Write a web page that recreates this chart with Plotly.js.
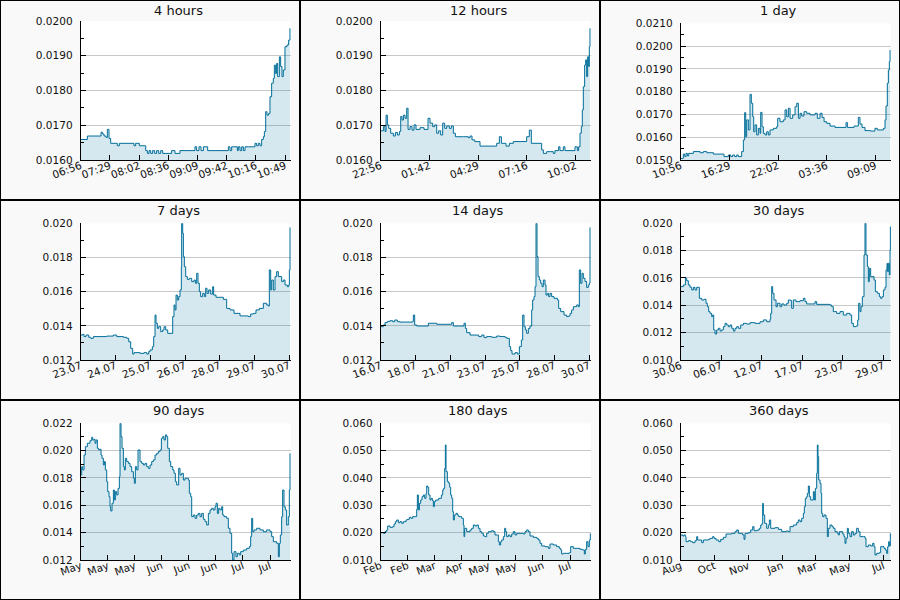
<!DOCTYPE html>
<html>
<head>
<meta charset="utf-8">
<script src="https://cdn.plot.ly/plotly-3.0.1.min.js"></script>
<style>html,body{margin:0;padding:0;background:#f9f9f9;}#chart{width:900px;height:600px;}</style>
</head>
<body>
<div id="chart"></div>
<script>
// ---------- DATA ----------
// 4 hours (minutes since 06:56)
const t4h = [0,7.6,23.2,24.7,26.6,28.9,30.4,32.3,34.2,41.8,44.1,60.8,62.7,66.9,74.2,76.1,78.0,79.9,82.1,84.4,86.7,89.0,91.3,93.6,103.8,107.6,113.3,130.4,132.3,135.0,137.3,140.0,144.9,168.5,170.4,172.3,178.8,179.9,181.8,183.7,185.6,187.5,191.3,198.9,200.8,202.7,204.6,206.5,208.4,209.6,211.1,212.6,214.5,216.0,217.9,219.8,221.0,222.5,223.6,224.8,226.7,228.2,229.7,231.2,233.1,235.4,237.3,238.8];
const v4h = [0.01659,0.01669,0.01680,0.01675,0.01669,0.01665,0.01688,0.01662,0.01648,0.01641,0.01648,0.01641,0.01648,0.01641,0.01627,0.01619,0.01627,0.01619,0.01627,0.01619,0.01627,0.01619,0.01627,0.01619,0.01627,0.01619,0.01627,0.01638,0.01627,0.01638,0.01627,0.01638,0.01627,0.01638,0.01627,0.01638,0.01627,0.01638,0.01627,0.01638,0.01627,0.01638,0.01638,0.01648,0.01641,0.01648,0.01641,0.01659,0.01667,0.01682,0.01739,0.01729,0.01734,0.01782,0.01821,0.01835,0.01873,0.01849,0.01878,0.01840,0.01897,0.01869,0.01840,0.01859,0.01926,0.01931,0.01945,0.01979];
const ticks4h = [0,33.333,66.667,100,133.333,166.667,200,233.333];
const labels4h = ['06:56','07:29','08:02','08:36','09:09','09:42','10:16','10:49'];

// 12 hours (minutes since 22:56)
const t12h = [0,9.1,14.8,18.3,22.8,27.4,34.2,43.4,50.2,57.1,63.9,68.5,73.0,77.6,83.3,89.0,93.6,100.4,107.3,114.1,120.9,134.6,148.3,162.0,168.9,178.0,184.8,191.7,198.5,205.4,212.2,219.1,225.9,235.0,241.9,248.7,255.6,283.0,300.1,305.8,312.6,321.8,340.0,391.4,397.1,406.2,413.1,429.0,440.4,454.1,499.8,508.9,515.7,551.1,556.8,568.2,591.0,596.7,609.3,613.8,625.2,630.9,665.2,673.2,677.7,682.3,686.8,690.2,693.7,698.2,701.6,705.1,708.5,711.9,714.2,716.5];
const v12h = [0.01684,0.01696,0.01682,0.01729,0.01701,0.01691,0.01677,0.01669,0.01679,0.01672,0.01682,0.01725,0.01715,0.01729,0.0172,0.01749,0.01688,0.01696,0.01686,0.01701,0.01688,0.01693,0.01688,0.0172,0.01706,0.01696,0.01701,0.01677,0.01684,0.01672,0.01706,0.01691,0.01698,0.01691,0.01698,0.01677,0.01667,0.01667,0.01664,0.01669,0.01658,0.01653,0.0164,0.0164,0.01648,0.01667,0.01648,0.0164,0.01648,0.01653,0.01667,0.01686,0.01648,0.01629,0.01619,0.01624,0.01619,0.01627,0.01638,0.01627,0.01638,0.01627,0.01638,0.01627,0.01638,0.01677,0.01696,0.01744,0.01811,0.01873,0.01888,0.0184,0.01897,0.01869,0.01926,0.01979];
const ticks12h = [0,166.667,333.333,500,666.667];
const labels12h = ['22:56','01:42','04:29','07:16','10:02'];

// 1 day (hours since 10:56)
const t1d = [0,0.30,0.46,0.61,0.76,0.91,1.45,2.21,2.59,2.97,3.73,4.94,5.44,5.71,5.93,6.16,6.39,6.58,6.96,7.15,7.30,7.42,7.53,7.72,7.91,8.06,8.22,8.33,8.48,8.67,8.86,9.05,9.13,9.28,9.43,9.62,9.81,10.00,10.19,10.57,10.95,11.07,11.33,11.71,11.91,12.10,12.29,12.48,12.78,13.05,13.24,13.43,13.62,13.81,14.07,14.38,14.76,15.33,15.59,15.90,16.13,16.36,16.66,17.04,17.61,18.87,19.02,19.78,20.27,20.46,20.69,21.03,21.68,22.17,22.44,23.13,23.32,23.43,23.58,23.70,23.81,23.89];
const v1d = [0.01507,0.01526,0.01515,0.01529,0.01518,0.01529,0.01537,0.01532,0.01537,0.01532,0.01526,0.01515,0.01522,0.01515,0.01522,0.01515,0.01522,0.01515,0.01537,0.01588,0.01708,0.01602,0.01676,0.01632,0.01788,0.01749,0.0169,0.01624,0.01654,0.0161,0.01639,0.01617,0.01709,0.01646,0.01617,0.0161,0.01624,0.0161,0.01632,0.01639,0.01646,0.01683,0.01668,0.01676,0.0172,0.0169,0.01727,0.01683,0.01698,0.01734,0.01749,0.01683,0.01705,0.01693,0.01712,0.01705,0.01698,0.01705,0.01683,0.01705,0.01687,0.01668,0.01661,0.01649,0.01643,0.01664,0.01643,0.01649,0.01687,0.01658,0.01643,0.01629,0.01627,0.01639,0.01632,0.01639,0.01676,0.01737,0.01837,0.01895,0.01932,0.01983];
const ticks1d = [0,5.5556,11.1111,16.6667,22.2222];
const labels1d = ['10:56','16:29','22:02','03:36','09:09'];

// 7 days (days since 23.07)
const t7d = [0,0.067,0.111,0.178,0.266,0.333,0.422,0.865,1.087,1.198,1.420,1.531,1.598,1.664,1.731,1.775,1.975,2.108,2.197,2.263,2.308,2.385,2.430,2.474,2.507,2.552,2.596,2.663,2.729,2.774,2.829,2.896,3.062,3.106,3.140,3.173,3.217,3.262,3.306,3.350,3.361,3.395,3.417,3.450,3.495,3.550,3.617,3.694,3.772,3.817,3.861,3.905,3.949,3.994,4.060,4.116,4.160,4.205,4.260,4.327,4.393,4.426,4.504,4.748,4.859,4.970,5.103,5.303,5.580,5.658,5.747,5.835,5.946,6.079,6.190,6.246,6.279,6.324,6.357,6.412,6.468,6.523,6.579,6.690,6.745,6.801,6.878,6.923,6.945,6.967];
const v7d = [0.01346,0.0135,0.01337,0.01346,0.01333,0.01327,0.01337,0.0134,0.01346,0.01337,0.01333,0.01327,0.01307,0.01268,0.01235,0.01243,0.01239,0.01243,0.01235,0.01249,0.01259,0.01278,0.01337,0.01463,0.01415,0.01385,0.01395,0.01366,0.01376,0.01395,0.01376,0.01356,0.01454,0.01522,0.01493,0.0158,0.01551,0.01571,0.0161,0.01746,0.020,0.01941,0.01805,0.01746,0.01688,0.01672,0.01678,0.01659,0.01668,0.01649,0.01707,0.01649,0.0160,0.01571,0.0159,0.01571,0.0162,0.0159,0.0161,0.01586,0.01629,0.0158,0.01567,0.01555,0.01502,0.01493,0.01473,0.01458,0.01454,0.01469,0.01473,0.01493,0.01502,0.01532,0.01522,0.01516,0.01727,0.0161,0.01668,0.0161,0.01688,0.01717,0.01688,0.01659,0.01668,0.01639,0.01629,0.01639,0.01727,0.01976];
const ticks7d = [0,1.1574,2.3148,3.4722,4.6296,5.787,6.9444];
const labels7d = ['23.07','24.07','25.07','26.07','28.07','29.07','30.07'];

// 14 days (days since 16.07)
const t14d = [0,0.177,0.288,0.444,0.621,0.799,0.932,1.109,1.287,2.130,2.174,2.263,2.396,3.173,3.727,4.726,4.837,5.547,5.635,5.724,5.946,6.523,6.723,6.878,7.055,7.388,7.721,7.943,8.276,8.387,8.564,8.653,8.742,8.941,9.097,9.230,9.363,9.452,9.540,9.629,9.718,9.829,9.940,10.051,10.117,10.206,10.273,10.339,10.406,10.473,10.561,10.650,10.739,10.827,10.938,11.005,11.094,11.182,11.271,11.382,11.537,11.759,11.848,11.981,12.203,12.380,12.513,12.602,12.713,12.824,13.046,13.157,13.223,13.312,13.401,13.490,13.601,13.712,13.823,13.889,13.933];
const v14d = [0.01395,0.01405,0.01419,0.01426,0.0143,0.01424,0.01434,0.01424,0.01422,0.01426,0.01463,0.01405,0.01399,0.01415,0.01409,0.01419,0.01399,0.01415,0.01385,0.0136,0.01346,0.01337,0.01346,0.01331,0.01337,0.01333,0.0134,0.01337,0.01333,0.01327,0.01278,0.01255,0.01235,0.01243,0.01235,0.01278,0.01317,0.01463,0.01395,0.01376,0.01356,0.01385,0.01399,0.01493,0.01551,0.01571,0.01629,0.020,0.01805,0.01688,0.01668,0.01649,0.01629,0.01668,0.01639,0.0158,0.0159,0.01571,0.0159,0.01571,0.01561,0.01551,0.01502,0.01483,0.01463,0.01454,0.01458,0.01473,0.01493,0.01512,0.01522,0.01512,0.01727,0.01649,0.01707,0.01678,0.01659,0.01625,0.01639,0.01649,0.01976];
const ticks14d = [0,2.3148,4.6296,6.9444,9.2593,11.5741,13.8889];
const labels14d = ['16.07','18.07','21.07','23.07','25.07','28.07','30.07'];

// 30 days (days since 30.06)
const t30d = [0,0.38,0.67,0.86,1.09,1.33,1.57,1.81,2.04,2.28,2.66,3.00,3.33,3.61,3.80,3.99,4.18,4.42,4.56,4.71,4.90,5.13,5.37,5.61,5.85,6.09,6.32,6.56,6.80,7.04,7.27,7.51,7.75,7.99,8.23,8.56,8.94,9.41,9.89,10.60,11.32,11.79,12.27,12.74,12.84,12.98,13.12,13.31,13.60,13.79,14.17,14.41,14.74,15.12,15.36,15.69,15.83,16.07,16.45,17.02,17.50,17.73,17.97,19.16,19.40,21.30,21.54,21.77,22.25,22.72,23.20,23.68,24.15,24.39,24.63,25.01,25.25,25.39,25.58,25.72,25.91,26.15,26.29,26.43,26.63,26.77,26.91,27.10,27.58,27.77,28.05,28.34,28.53,28.72,28.91,29.14,29.29,29.43,29.52,29.62,29.76,29.86,29.91];
const v30d = [0.01537,0.01549,0.01598,0.0158,0.01549,0.01532,0.01512,0.01532,0.01512,0.01532,0.01451,0.01439,0.01444,0.01415,0.0139,0.01354,0.01341,0.01317,0.01329,0.0122,0.0119,0.0122,0.01232,0.01212,0.0122,0.01244,0.01268,0.01256,0.01244,0.01256,0.01232,0.01212,0.01232,0.01244,0.01232,0.01256,0.01268,0.01263,0.01273,0.01268,0.0128,0.01293,0.0128,0.01298,0.01341,0.01537,0.01488,0.01439,0.0139,0.01415,0.0139,0.0141,0.01402,0.01415,0.01439,0.01434,0.01378,0.01439,0.01427,0.01434,0.01451,0.01427,0.0141,0.01427,0.01407,0.01402,0.0139,0.01354,0.01341,0.01354,0.01329,0.01341,0.01329,0.01268,0.01244,0.01249,0.01293,0.01415,0.01354,0.0139,0.01463,0.01768,0.020,0.01768,0.01683,0.01573,0.01671,0.0161,0.01585,0.015,0.01488,0.01463,0.01451,0.01463,0.01512,0.01532,0.01659,0.01707,0.01646,0.01707,0.01622,0.01805,0.01976];
const ticks30d = [0,5.787,11.574,17.361,23.148,28.935];
const labels30d = ['30.06','06.07','12.07','17.07','23.07','29.07'];

// 90 days (days since start)
const t90d = [0,0.43,0.86,1.43,2.00,2.85,3.99,4.71,5.13,5.71,6.13,6.56,7.13,7.70,8.27,8.70,9.13,9.70,10.13,10.55,11.13,11.55,12.12,12.55,12.84,13.41,13.98,14.41,14.83,15.40,15.97,16.55,16.83,17.26,17.69,18.26,18.68,19.11,19.68,20.40,21.11,21.82,22.54,22.96,23.39,23.96,24.53,24.96,25.39,26.10,26.81,27.53,28.24,28.95,29.67,30.38,31.09,31.81,32.52,33.23,33.95,34.52,35.09,35.66,36.23,36.80,37.23,37.94,38.51,39.37,39.94,40.51,41.08,41.93,42.50,43.22,43.93,44.64,46.07,46.50,47.07,47.50,48.21,48.92,49.64,50.35,51.06,51.77,52.49,53.20,53.91,54.63,55.34,56.05,56.77,57.48,57.91,58.48,59.05,59.62,60.33,60.76,61.33,62.47,63.18,63.90,64.61,65.04,65.61,66.46,67.04,67.89,68.46,69.60,71.03,72.17,72.74,73.17,73.60,74.17,75.31,76.73,78.16,79.59,81.01,81.73,82.44,83.87,84.58,85.01,85.43,86.00,86.43,87.00,87.57,88.14,88.85,89.28,89.57];
const v90d = [0.01822,0.01883,0.01859,0.01968,0.02029,0.02054,0.02073,0.02098,0.02078,0.02083,0.02054,0.02078,0.02017,0.02005,0.0201,0.01968,0.01944,0.01895,0.0192,0.01859,0.01773,0.0170,0.01663,0.0159,0.01559,0.01615,0.01712,0.01639,0.0170,0.01676,0.01724,0.0181,0.022,0.02102,0.02017,0.01883,0.01859,0.01944,0.0192,0.01907,0.01883,0.01846,0.01798,0.01761,0.01883,0.01859,0.02005,0.02005,0.0192,0.01907,0.01895,0.01907,0.01883,0.01871,0.01895,0.0192,0.01932,0.01968,0.0198,0.01993,0.02005,0.0209,0.02102,0.02078,0.02115,0.02102,0.02017,0.0192,0.01883,0.01859,0.01834,0.01773,0.01749,0.01871,0.01822,0.01834,0.01785,0.01798,0.01785,0.01688,0.01663,0.01517,0.01529,0.01505,0.01529,0.01541,0.01517,0.01541,0.01498,0.0148,0.01456,0.01541,0.01566,0.01578,0.01566,0.0159,0.01615,0.01541,0.01578,0.01566,0.0159,0.01529,0.01517,0.01505,0.01432,0.01395,0.01249,0.012,0.01261,0.01224,0.01249,0.01237,0.01261,0.01273,0.01285,0.01298,0.01371,0.01505,0.01407,0.0142,0.01432,0.0142,0.01407,0.0142,0.01407,0.01371,0.01334,0.01322,0.01224,0.01322,0.01383,0.01517,0.01712,0.0159,0.01566,0.01456,0.01517,0.01712,0.0198];
const ticks90d = [0,11.574,23.148,34.722,46.296,57.870,69.444,81.019];
const labels90d = ['May','May','May','Jun','Jun','Jun','Jul','Jul'];

// 180 days (days since start)
const t180d = [0,2.28,3.71,5.13,5.99,7.99,10.27,11.41,12.55,13.69,15.12,16.55,17.97,19.40,21.68,22.82,24.53,25.96,27.39,29.38,30.81,31.38,32.24,33.09,34.23,35.37,36.51,37.65,38.80,39.37,40.22,41.08,42.22,43.07,44.22,45.07,45.93,47.07,49.64,51.92,53.06,53.91,54.77,55.34,55.91,57.05,58.19,59.05,59.90,60.76,61.62,62.19,63.04,64.47,65.61,66.75,69.32,70.74,71.32,71.89,73.60,76.45,77.88,79.30,80.73,82.15,83.58,85.01,86.43,87.86,89.29,90.71,92.14,94.99,96.42,97.84,99.84,100.70,101.55,102.69,103.55,104.98,106.12,106.97,107.83,109.25,110.68,112.11,113.53,114.96,116.39,122.09,123.52,124.95,126.37,127.80,130.65,133.50,134.93,136.36,137.78,140.63,143.49,144.91,147.76,150.62,152.90,154.04,154.90,156.32,161.46,162.60,164.88,170.59,172.87,174.29,175.15,176.29,177.43,178.57,179.43];
const v180d = [0.0200,0.01976,0.02037,0.02098,0.02244,0.02195,0.0222,0.02317,0.02402,0.02463,0.02366,0.02402,0.02341,0.02402,0.02463,0.02488,0.02561,0.02524,0.02585,0.02585,0.02854,0.03378,0.02829,0.03073,0.03195,0.03317,0.03378,0.03256,0.03439,0.03707,0.03659,0.03378,0.03195,0.03256,0.03171,0.02951,0.03134,0.03195,0.03256,0.03378,0.03561,0.03622,0.04354,0.05207,0.04232,0.03866,0.03805,0.03659,0.03378,0.03256,0.02768,0.02463,0.02646,0.02707,0.02646,0.02585,0.02524,0.0228,0.01854,0.02159,0.02037,0.02098,0.02159,0.0228,0.02244,0.0228,0.02159,0.02037,0.01976,0.01878,0.01854,0.01976,0.02037,0.02073,0.02037,0.01915,0.01915,0.01671,0.01549,0.01671,0.01732,0.01854,0.02159,0.02037,0.01854,0.01915,0.01854,0.01951,0.02037,0.01915,0.01976,0.01951,0.02037,0.02098,0.02037,0.01878,0.01829,0.01793,0.01732,0.0161,0.01512,0.01488,0.01427,0.01585,0.01549,0.01488,0.01427,0.01366,0.0122,0.01244,0.01268,0.01488,0.01427,0.0139,0.01366,0.0122,0.0139,0.01671,0.01488,0.01732,0.01976];
const ticks180d = [0,23.148,46.296,69.444,92.593,115.741,138.889,162.037];
const labels180d = ['Feb','Feb','Mar','Apr','May','May','Jun','Jul'];

// 360 days (days since start)
const t360d = [0,3.42,5.71,7.99,9.13,13.12,17.12,20.54,24.53,27.38,29.10,35.94,38.80,47.35,50.21,54.77,57.05,60.48,65.04,68.46,73.03,77.59,87.29,92.99,95.85,98.70,106.12,108.40,110.11,115.82,119.81,123.23,125.51,131.22,134.64,136.93,139.21,140.35,141.49,143.78,147.20,150.05,151.76,154.04,161.46,167.16,172.87,180.28,184.28,187.13,192.84,198.54,201.39,204.25,207.10,209.95,211.66,213.37,215.66,216.80,218.51,220.22,222.50,224.78,227.07,228.78,230.49,232.77,233.91,235.05,236.20,238.48,240.19,241.33,243.04,245.32,248.75,251.03,252.74,255.59,259.02,261.30,264.15,268.14,269.86,271.57,277.27,279.55,281.27,282.98,285.26,286.97,289.82,292.68,295.53,298.38,301.23,304.09,306.94,312.64,315.50,317.21,321.20,325.20,328.62,330.90,332.61,335.47,340.03,342.31,348.02,350.30,352.58,354.30,356.01,357.15,358.86];
const v360d = [0.01915,0.01878,0.01915,0.01854,0.01671,0.01707,0.01671,0.01634,0.01707,0.01854,0.01732,0.01634,0.01732,0.01756,0.01793,0.01854,0.01793,0.01732,0.01671,0.01756,0.01829,0.01951,0.01976,0.02037,0.02098,0.01976,0.01915,0.01756,0.01976,0.0200,0.02098,0.0222,0.02073,0.02098,0.02159,0.0228,0.02341,0.03073,0.02646,0.02341,0.02159,0.0228,0.02463,0.02159,0.02183,0.02122,0.02037,0.02061,0.02037,0.0222,0.0228,0.02366,0.02463,0.02402,0.02524,0.02707,0.02951,0.03256,0.03317,0.03439,0.03707,0.03317,0.03195,0.03195,0.035,0.03195,0.03622,0.04171,0.05207,0.0478,0.03927,0.03805,0.03439,0.02707,0.02585,0.02646,0.02524,0.01854,0.02159,0.0228,0.0222,0.02159,0.02037,0.01976,0.01915,0.02037,0.01951,0.01854,0.0161,0.01793,0.02159,0.01976,0.01854,0.02037,0.01915,0.01976,0.02159,0.02037,0.01854,0.01854,0.01793,0.01488,0.01549,0.01512,0.0161,0.01488,0.01183,0.01244,0.01268,0.01488,0.01427,0.01366,0.01244,0.01488,0.01671,0.01512,0.01976];
const ticks360d = [0,57.87,115.74,173.61,231.48,289.35,347.22];
const labels360d = ['Aug','Oct','Nov','Jan','Mar','May','Jul'];

const titles = ['4 hours','12 hours','1 day','7 days','14 days','30 days','90 days','180 days','360 days'];

// ---------- PANEL SETUP ----------
const panels = [
  {t:t4h,   v:v4h,   span:240,  tv:ticks4h,   tt:labels4h,   lo:0.016, hi:0.020, dt:0.001, fmt:'.4f', top:21},
  {t:t12h,  v:v12h,  span:720,  tv:ticks12h,  tt:labels12h,  lo:0.016, hi:0.020, dt:0.001, fmt:'.4f', top:21},
  {t:t1d,   v:v1d,   span:24,   tv:ticks1d,   tt:labels1d,   lo:0.015, hi:0.021, dt:0.001, fmt:'.4f', top:23.3},
  {t:t7d,   v:v7d,   span:7,    tv:ticks7d,   tt:labels7d,   lo:0.012, hi:0.020, dt:0.002, fmt:'.3f', top:23.3},
  {t:t14d,  v:v14d,  span:14,   tv:ticks14d,  tt:labels14d,  lo:0.012, hi:0.020, dt:0.002, fmt:'.3f', top:23.3},
  {t:t30d,  v:v30d,  span:30,   tv:ticks30d,  tt:labels30d,  lo:0.010, hi:0.020, dt:0.002, fmt:'.3f', top:23.3},
  {t:t90d,  v:v90d,  span:90,   tv:ticks90d,  tt:labels90d,  lo:0.012, hi:0.022, dt:0.002, fmt:'.3f', top:23.3},
  {t:t180d, v:v180d, span:180,  tv:ticks180d, tt:labels180d, lo:0.010, hi:0.060, dt:0.010, fmt:'.3f', top:23.3},
  {t:t360d, v:v360d, span:360,  tv:ticks360d, tt:labels360d, lo:0.010, hi:0.060, dt:0.010, fmt:'.3f', top:23.3}
];

const FONT = 'DejaVu Sans, Verdana, sans-serif';
const W = 900, H = 600;
const LINE = '#006e99';
const FILL = 'rgba(0,110,153,0.16)';

const traces = [];
const layout = {
  width: W, height: H,
  margin: {l:0, r:0, t:0, b:0, pad:0},
  paper_bgcolor: '#f9f9f9',
  plot_bgcolor: '#ffffff',
  showlegend: false,
  hovermode: false,
  font: {family: FONT, size: 10.5, color: '#111'},
  annotations: [],
  shapes: []
};

panels.forEach((p, i) => {
  const c = i % 3, r = Math.floor(i / 3);
  const k = i + 1;
  const xa = 'xaxis' + (k === 1 ? '' : k);
  const ya = 'yaxis' + (k === 1 ? '' : k);
  traces.push({
    type: 'scatter', mode: 'lines',
    x: p.t, y: p.v,
    xaxis: 'x' + (k === 1 ? '' : k), yaxis: 'y' + (k === 1 ? '' : k),
    line: {color: LINE, width: 1, shape: 'hv'},
    fill: 'tozeroy', fillcolor: FILL
  });
  const x0 = (80.7 + 300 * c) / W, x1 = (291 + 300 * c) / W;
  const yb = 1 - (160 + 200 * r) / H, yt = 1 - (p.top + 200 * r) / H;
  layout[xa] = {
    domain: [x0, x1], range: [0, p.span], anchor: 'y' + (k === 1 ? '' : k),
    tickmode: 'array', tickvals: p.tv, ticktext: p.tt, tickangle: -20,
    ticks: 'inside', ticklen: 5, tickwidth: 1, tickcolor: '#000',
    showline: true, linecolor: '#000', linewidth: 1,
    showgrid: false, zeroline: false, fixedrange: true, ticklabelstandoff: -5,
    tickfont: {family: FONT, size: 10.5, color: '#111'}
  };
  layout[ya] = {
    domain: [yb, yt], range: [p.lo, p.hi + p.dt * 1e-4], anchor: 'x' + (k === 1 ? '' : k),
    tick0: p.lo, dtick: p.dt, tickformat: p.fmt,
    ticks: 'inside', ticklen: 5, tickwidth: 1, tickcolor: '#000',
    minor: {ticks: 'inside', ticklen: 3, tickwidth: 1, tickcolor: '#000', dtick: p.dt / 2, tick0: p.lo, showgrid: false},
    showline: true, linecolor: '#000', linewidth: 1,
    showgrid: true, gridcolor: '#c8c8c8', gridwidth: 1,
    zeroline: false, fixedrange: true, ticklabelstandoff: 5,
    tickfont: {family: FONT, size: 10.5, color: '#111'}
  };
  layout.annotations.push({
    xref: 'paper', yref: 'paper',
    x: (178.5 + 300 * c) / W, y: 1 - (10.5 + 200 * r) / H,
    xanchor: 'center', yanchor: 'middle', showarrow: false,
    text: titles[i], font: {family: FONT, size: 13, color: '#111'}
  });
});

// cell borders
[0, 300, 600, 900].forEach(x => layout.shapes.push({type:'line', xref:'paper', yref:'paper', x0:x/W, x1:x/W, y0:0, y1:1, line:{color:'#000', width:2}}));
[0, 200, 400, 600].forEach(y => layout.shapes.push({type:'line', xref:'paper', yref:'paper', x0:0, x1:1, y0:1-y/H, y1:1-y/H, line:{color:'#000', width:2}}));

Plotly.newPlot('chart', traces, layout, {staticPlot: true, displayModeBar: false});
</script>
</body>
</html>
